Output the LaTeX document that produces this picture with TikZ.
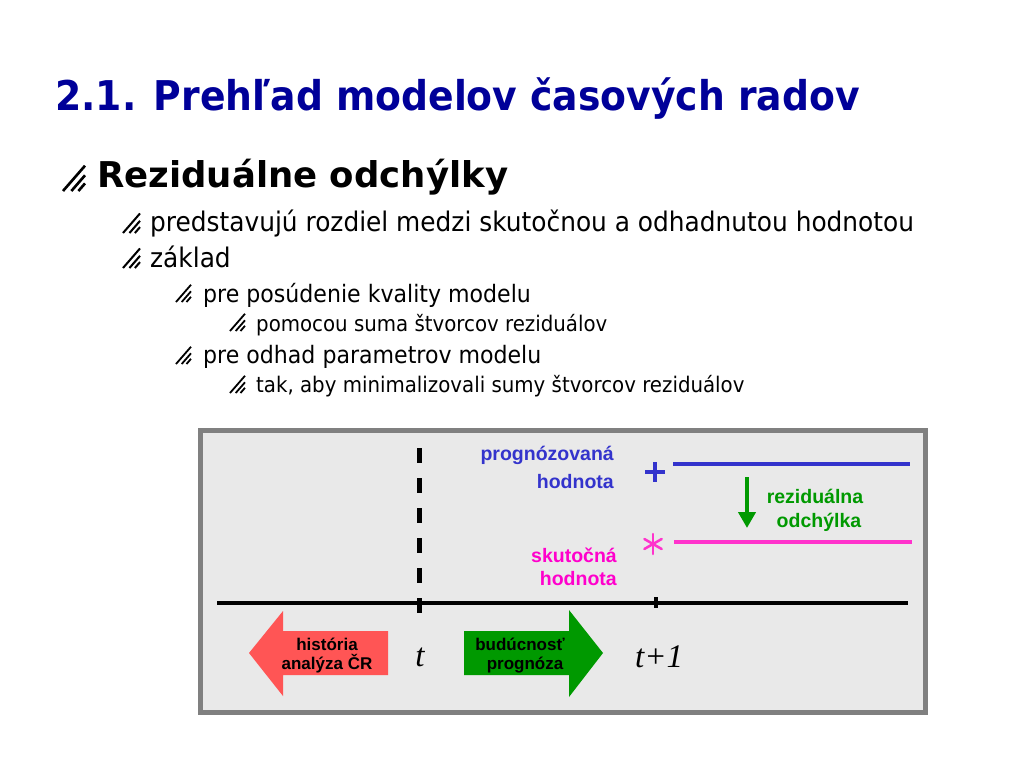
\documentclass[tikz,border=0pt]{standalone}
\usepackage{fontspec}
\usetikzlibrary{arrows.meta}
\newfontfamily\slidefont{DejaVu Sans}[FakeStretch=0.92]
\newfontfamily\headfont{DejaVu Sans}[FakeStretch=0.92]
\newfontfamily\bigfont{DejaVu Sans}
\newfontfamily\labelfont{Liberation Sans}
\newfontfamily\timefont{Liberation Serif}
\definecolor{navy}{HTML}{000099}
\definecolor{panel}{HTML}{E9E9E9}
\definecolor{frame}{HTML}{808080}
\definecolor{progblue}{HTML}{3333CC}
\definecolor{realpink}{HTML}{FF33CC}
\definecolor{realtext}{HTML}{FF00CC}
\definecolor{resgreen}{HTML}{009900}
\definecolor{histred}{HTML}{FF5555}
\definecolor{futgreen}{HTML}{009900}

% hatched bullet: bottom-left x, y, size
\newcommand{\hatchbullet}[3]{%
  \foreach \f in {0,0.38,0.7} {
    \draw[line width={#3*0.12}] ({#1+\f*#3},#2) -- ({#1+#3},{#2-(1-\f)*#3*1.15});
  }
}

\begin{document}
\begin{tikzpicture}[
  x=1pt, y=-1pt,
  every node/.style={inner sep=0pt},
  heading/.style={font=\headfont\bfseries\fontsize{41}{49}\selectfont, text=navy, anchor=base west},
  itemone/.style={font=\bigfont\bfseries\fontsize{35.5}{42}\selectfont, anchor=base west},
  itemtwo/.style={font=\slidefont\fontsize{27}{32}\selectfont, anchor=base west},
  itemthree/.style={font=\slidefont\fontsize{24}{28}\selectfont, anchor=base west},
  itemfour/.style={font=\slidefont\fontsize{21.5}{25}\selectfont, anchor=base west},
  tag/.style={font=\labelfont\bfseries\fontsize{19.5}{24}\selectfont},
  arrowtext/.style={font=\labelfont\bfseries\fontsize{17}{19}\selectfont, anchor=base},
  timemark/.style={font=\timefont\itshape\fontsize{33}{36}\selectfont, anchor=base},
]

% Background
\fill[white] (0,0) rectangle (1024,768);
\useasboundingbox (0,0) rectangle (1024,768);

% ============ Title and bullet list ============
\node[heading] (title) at (55,110) {2.1. Prehľad modelov časových radov};

\foreach \bx/\by/\bs in {63/191/22, 123/233/17, 123/268/17, 176/302/15, 230/331/15, 176/364/15, 230/393/15} {
  \hatchbullet{\bx}{\by}{\bs}
}

\node[itemone] (resid) at (97,187) {Reziduálne odchýlky};
\node[itemtwo] (rozdiel) at (150,231) {predstavujú rozdiel medzi skutočnou a odhadnutou hodnotou};
\node[itemtwo] (zaklad) at (150,267) {základ};
\node[itemthree] (kvalita) at (203,302) {pre posúdenie kvality modelu};
\node[itemfour] (suma) at (256,331) {pomocou suma štvorcov reziduálov};
\node[itemthree] (odhad) at (203,363) {pre odhad parametrov modelu};
\node[itemfour] (minim) at (256,392) {tak, aby minimalizovali sumy štvorcov reziduálov};

% ============ Panel ============
\fill[panel] (200.5,430.5) rectangle (925.5,712.5);
\draw[frame, line width=5] (200.5,430.5) rectangle (925.5,712.5);

% time axis
\coordinate (axisL) at (217,603);
\coordinate (axisR) at (908,603);
\draw[line width=4] (axisL) -- (axisR);

% present moment t (dashed) and tick at t+1
\coordinate (nowTop) at (419.5,448);
\coordinate (nowBot) at (419.5,613);
\draw[line width=5, dash pattern=on 15 off 15] (nowTop) -- (nowBot);
\coordinate (tickTop) at (655.5,597);
\coordinate (tickBot) at (655.5,608);
\draw[line width=4] (tickTop) -- (tickBot);

% predicted value
\coordinate (progL) at (673,464);
\coordinate (progR) at (910,464);
\draw[progblue, line width=3.5] (progL) -- (progR);
\draw[progblue, line width=3.5] (645,472) -- (665,472) (655,462) -- (655,482);

% actual value
\coordinate (realL) at (674,542);
\coordinate (realR) at (912,542);
\draw[realpink, line width=3.5] (realL) -- (realR);
\foreach \a in {90,30,150} {
  \draw[realpink, line width=2.5, line cap=round] (653,544) ++(\a:10) -- ++(\a+180:20);
}

% residual arrow
\coordinate (resTop) at (747,477);
\coordinate (resBot) at (747,528);
\draw[resgreen, line width=4, -{Triangle[length=16pt, width=17pt]}] (resTop) -- (resBot);

% labels
\node[tag, text=progblue, anchor=base east] (prog1) at (614,460) {prognózovaná};
\node[tag, text=progblue, anchor=base east] (prog2) at (614,488) {hodnota};
\node[tag, text=realtext, anchor=base east] (real1) at (617,562) {skutočná};
\node[tag, text=realtext, anchor=base east] (real2) at (617,585) {hodnota};
\node[tag, text=resgreen, anchor=base] (res1) at (815,503) {reziduálna};
\node[tag, text=resgreen, anchor=base] (res2) at (819,527) {odchýlka};

% ============ Big arrows ============
\fill[histred] (249,653) -- (283,611) -- (283,631) -- (388,631) -- (388,675) -- (283,675) -- (283,696) -- cycle;
\node[arrowtext] (hist1) at (327,650) {história};
\node[arrowtext] (hist2) at (327,669) {analýza ČR};

\fill[futgreen] (464,631) -- (569,631) -- (569,610) -- (603,653) -- (569,697) -- (569,675) -- (464,675) -- cycle;
\node[arrowtext] (fut1) at (520,650) {budúcnosť};
\node[arrowtext] (fut2) at (525,669) {prognóza};

% time marks
\node[timemark] (tnow) at (420,666) {t};
\node[timemark, anchor=base west] (tnext) at (635,667) {t+1};

\end{tikzpicture}
\end{document}
